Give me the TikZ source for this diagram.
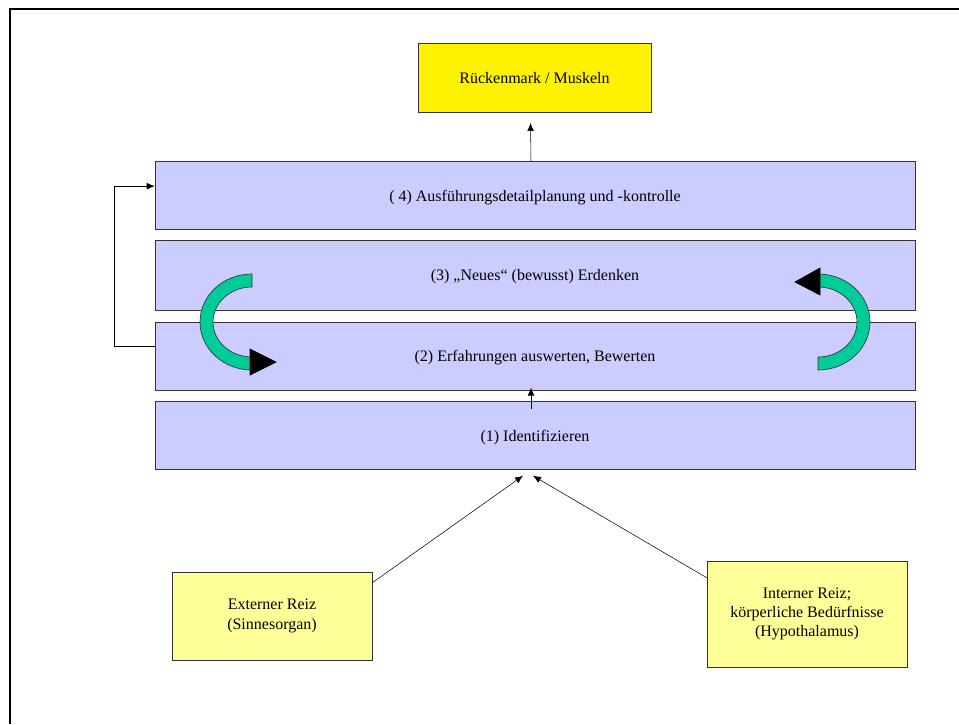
\documentclass[tikz,border=0pt]{standalone}
\usepackage{fontspec}
\setmainfont{Liberation Serif}
\usetikzlibrary{arrows.meta}
\definecolor{lav}{HTML}{CCCCFF}
\definecolor{pale}{HTML}{FFFF99}
\definecolor{turq}{HTML}{00CC99}
\tikzstyle{layer}=[draw=black!80, fill=lav, minimum width=570pt, minimum height=51pt, inner sep=0pt, text depth=0pt, font=\fontsize{12}{14.5}\selectfont]
\tikzstyle{target}=[draw=black!80, fill=yellow, minimum width=174.75pt, minimum height=51.75pt, inner sep=0pt, text depth=0pt, font=\fontsize{12}{14.5}\selectfont]
\tikzstyle{stimulus}=[draw=black!80, fill=pale, minimum width=150pt, align=center, inner sep=0pt, font=\fontsize{12}{14.5}\selectfont]
\tikzstyle{turn}=[fill=turq, draw=black!80, line width=.5pt]
\tikzstyle{turn head}=[fill=black, draw=black, line width=.5pt, line join=miter]

\begin{document}
\begin{tikzpicture}[x=.75pt,y=-.75pt,>={Latex[length=6pt,width=5pt]}]
    \useasboundingbox (0,0) rectangle (959,724);

    % Frame
    \draw[line width=1.5pt] (10,724) -- (10,9) -- (959,9);

    % Levels
    \node[target] (muskel) at (534.5,77.5) {Rückenmark / Muskeln};
    \node[layer] (plan) at (535,195.5) {( 4) Ausführungsdetailplanung und -kontrolle};
    \node[layer, minimum height=52.5pt] (neues) at (535,275) {(3) „Neues“ (bewusst) Erdenken};
    \node[layer] (erfahr) at (535,356) {(2) Erfahrungen auswerten, Bewerten};
    \node[layer] (ident) at (535,435.5) {(1) Identifizieren};

    % Stimuli
    \node[stimulus, minimum height=66pt] (ext) at (272,616) {Externer Reiz\\(Sinnesorgan)};
    \node[stimulus, minimum height=79.5pt] (int) at (807,614) {Interner Reiz;\\körperliche Bedürfnisse\\(Hypothalamus)};

    % Turning arrows
    \draw[turn] (252,274) arc[start angle=-90, end angle=-270, x radius=52, y radius=48]
        -- (252,357) arc[start angle=-270, end angle=-90, x radius=39, y radius=35] -- cycle;
    \draw[turn head] (250,375) -- (276,362) -- (250,349) -- cycle;
    \draw[turn] (818,370) arc[start angle=90, end angle=-90, x radius=52, y radius=48]
        -- (818,287) arc[start angle=-90, end angle=90, x radius=39, y radius=35] -- cycle;
    \draw[turn head] (820,268) -- (795,282) -- (820,295) -- cycle;

    % Connections
    \draw[->] ([xshift=-3pt]plan.north) -- ([xshift=-3pt,yshift=-8pt]muskel.south);
    \draw[->] ([xshift=-3pt,yshift=-6pt]ident.north) -- ([xshift=-3pt,yshift=2pt]erfahr.south);
    \draw[->] ([yshift=7.5pt]erfahr.west) -- ++(-40,0) |- ([yshift=7pt]plan.west);
    \draw[->] ([yshift=-8.25pt]ext.north east) -- ([xshift=-9pt,yshift=-4.5pt]ident.south);
    \draw[->] ([yshift=-12.75pt]int.north west) -- ([xshift=-1.5pt,yshift=-4.5pt]ident.south);

\end{tikzpicture}
\end{document}
